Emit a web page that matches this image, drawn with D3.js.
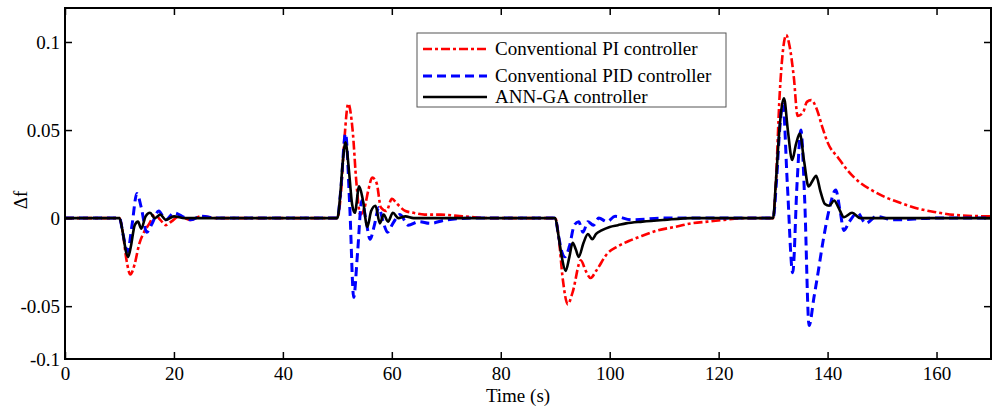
<html>

<head>
    <style>
        body { margin: 0; background: #fff; }
        svg text { font-family: "Times New Roman", "Liberation Serif", Tinos, "DejaVu Serif", serif !important; fill: #000; }
        .line { fill: none; }
    </style>
</head>

<body>
    <svg id="container" width="992" height="409"></svg>
</body>
<script src="https://cdn.jsdelivr.net/npm/d3@7"></script>
<script>
    // [time (s), delta f]
    let piSeries = [
        [0, 0], [10, 0], [10.6, -0.008], [11.3, -0.024], [12, -0.032], [12.8, -0.026], [13.6, -0.015],
        [14.5, -0.008], [15.5, -0.003], [16.5, 0.002], [17.5, -0.001], [18.5, -0.004], [19.5, -0.002],
        [21, 0.001], [23, -0.001], [25, 0.001], [28, 0], [50, 0],
        [50.6, 0.012], [51.3, 0.045], [52, 0.065], [52.8, 0.05], [53.5, 0.02], [54.2, 0.002], [55, 0.006],
        [55.7, 0.016], [56.4, 0.023], [57.2, 0.02], [58, 0.006], [59, 0.004], [60, 0.011], [61, 0.008],
        [62.5, 0.004], [64, 0.003], [66, 0.002], [69, 0.002], [73, 0.001], [78, 0], [90, 0],
        [90.6, -0.01], [91.4, -0.035], [92.3, -0.049], [93.2, -0.042], [94.7, -0.024], [95.6, -0.03],
        [96.5, -0.034], [97.5, -0.03], [99.6, -0.02], [101.5, -0.016], [103.9, -0.0125], [106, -0.01],
        [108.8, -0.007], [112, -0.005], [115, -0.003], [118, -0.002], [121, -0.001], [125, 0], [130, 0],
        [130.5, 0.02], [131.2, 0.07], [131.8, 0.095], [132.4, 0.104], [133, 0.098], [133.8, 0.08],
        [134.5, 0.058], [135.5, 0.06], [136.2, 0.066], [137, 0.067], [138, 0.062], [139, 0.052],
        [140, 0.043], [142, 0.034], [143.7, 0.027], [146, 0.02], [148, 0.016], [150.5, 0.012],
        [153.5, 0.0085], [156.5, 0.0055], [159.6, 0.0035], [164.5, 0.0015], [170, 0.001]
    ]

    let pidSeries = [
        [0, 0], [10, 0], [10.7, -0.01], [11.5, -0.019], [12.3, -0.004], [13.2, 0.014], [14, 0.006],
        [15, -0.008], [16, -0.003], [17.2, 0.004], [18.5, -0.001], [20, 0.003], [21.5, 0.001],
        [23, -0.001], [25, 0.001], [28, 0], [50, 0],
        [50.6, 0.015], [51.5, 0.048], [52.3, 0.005], [53, -0.045], [53.7, -0.02], [54.5, 0.01],
        [55.3, -0.002], [56, -0.012], [56.8, -0.004], [57.6, 0.006], [58.4, -0.002], [59.2, -0.008],
        [60.2, -0.003], [61.5, 0.002], [63, -0.004], [65, -0.002], [67, -0.003], [70, -0.001], [75, 0],
        [90, 0], [90.6, -0.01], [91.2, -0.019], [91.8, -0.022], [92.6, -0.016], [93.5, -0.004],
        [94.3, -0.002], [95.1, -0.008], [96, -0.002], [97, -0.004], [98, 0], [99.5, -0.002],
        [101, 0.001], [104, -0.001], [110, 0], [130, 0],
        [130.6, 0.02], [131.2, 0.05], [131.8, 0.065], [132.6, 0.02], [133.6, -0.031], [134.4, 0.02],
        [135.1, 0.05], [135.8, 0.01], [136.6, -0.061], [137.5, -0.045], [138.3, -0.03], [139.2, -0.0125],
        [140.3, 0.005], [141.5, 0.016], [142.3, 0.004], [143, -0.007], [144, -0.002], [145.5, 0.003],
        [147, -0.003], [149, 0.001], [152, -0.001], [160, 0], [170, 0]
    ]

    let annSeries = [
        [0, 0], [10, 0], [10.6, -0.008], [11.2, -0.019], [11.6, -0.022], [12.1, -0.016], [12.8, -0.004],
        [13.4, -0.002], [14, -0.006], [14.8, 0.001], [15.6, 0.003], [16.5, 0], [17.5, 0.002],
        [18.5, -0.001], [20, 0.001], [22, 0], [50, 0],
        [50.5, 0.012], [51, 0.032], [51.5, 0.043], [52.1, 0.028], [52.7, 0.008], [53.2, 0.003],
        [54, 0.018], [54.7, 0.01], [55.5, -0.005], [56.2, 0.004], [57, 0.007], [57.8, -0.003],
        [58.5, 0.002], [59.3, -0.002], [60.2, 0.003], [61.2, 0], [62.5, 0.001], [64, 0], [90, 0],
        [90.5, -0.008], [91.2, -0.022], [91.9, -0.03], [92.6, -0.022], [93.2, -0.014], [93.8, -0.018],
        [94.3, -0.022], [95.2, -0.014], [96, -0.009], [96.8, -0.012], [97.5, -0.009], [98.5, -0.007],
        [100, -0.005], [101.5, -0.004], [103, -0.003], [106, -0.002], [110, -0.001], [115, 0], [130, 0],
        [130.5, 0.02], [131.2, 0.052], [132, 0.068], [132.7, 0.05], [133.5, 0.033], [134.2, 0.042],
        [134.9, 0.048], [135.7, 0.032], [136.5, 0.018], [137.2, 0.021], [137.9, 0.024], [138.7, 0.015],
        [139.5, 0.008], [140.3, 0.007], [141.2, 0.01], [142, 0.006], [143, 0.0005], [144.5, 0.003],
        [146, 0], [170, 0]
    ]

    let legendNames = ["Conventional PI controller", "Conventional PID controller", "ANN-GA controller"]
    let xTicks = [0, 20, 40, 60, 80, 100, 120, 140, 160]
    let yTicks = [-0.08, -0.05, 0, 0.05, 0.1]
    let yTickLabels = ["-0.1", "-0.05", "0", "0.05", "0.1"]

    let mLeft = 65, mRight = 991, mTop = 8, mBottom = 359
    let svg = d3.select("#container")

    let x = d3.scaleLinear().domain([0, 170]).range([mLeft, mRight])
    let y = d3.scaleLinear().domain([-0.08, 0.1193]).range([mBottom, mTop])

    let styles = [
        { color: "#ff0000", width: 2.6, dash: "9,3,3,3" },
        { color: "#0000ff", width: 3, dash: "9,5" },
        { color: "#000000", width: 2.6, dash: null }
    ]

    let line = d3.line()
        .x(d => x(d[0]))
        .y(d => y(d[1]))
        .curve(d3.curveMonotoneX)

    let plot = svg.append("g")
    let allSeries = [piSeries, pidSeries, annSeries]
    allSeries.forEach((s, i) => {
        plot.append("path")
            .attr("class", "line")
            .attr("d", line(s))
            .style("stroke", styles[i].color)
            .style("stroke-width", styles[i].width)
            .style("stroke-dasharray", styles[i].dash)
    })

    // axes box with inward ticks
    let xAxis = d3.axisBottom(x).tickValues(xTicks).tickSize(-7).tickPadding(8)
    svg.append("g").attr("transform", "translate(0," + mBottom + ")").call(xAxis)
    svg.append("g").attr("transform", "translate(0," + mTop + ")")
        .call(d3.axisTop(x).tickValues(xTicks).tickSize(-7).tickFormat(""))

    let yAxis = d3.axisLeft(y).tickValues(yTicks).tickSize(-7).tickPadding(5)
        .tickFormat((d, i) => yTickLabels[i])
    let gy = svg.append("g").attr("transform", "translate(" + mLeft + ",0)").call(yAxis)
    svg.append("g").attr("transform", "translate(" + mRight + ",0)")
        .call(d3.axisRight(y).tickValues(yTicks.slice(1)).tickSize(-7).tickFormat(""))

    gy.selectAll(".tick").filter(d => d == -0.08).select("line").remove()

    svg.selectAll(".domain").remove()
    svg.selectAll(".tick line").style("stroke", "#000").style("stroke-width", 1.5)
    svg.selectAll(".tick text").style("font-size", "19px")

    svg.append("rect")
        .attr("x", mLeft).attr("y", mTop)
        .attr("width", mRight - mLeft).attr("height", mBottom - mTop)
        .style("fill", "none").style("stroke", "#000").style("stroke-width", 2)

    svg.append("text")
        .attr("x", 518).attr("y", 402)
        .style("text-anchor", "middle").style("font-size", "19px")
        .text("Time (s)")

    svg.append("text")
        .attr("transform", "translate(27,200) rotate(-90)")
        .style("text-anchor", "middle").style("font-size", "19px")
        .text("Δf")

    // legend
    let legend = svg.append("g")
    legend.append("rect")
        .attr("x", 417).attr("y", 33).attr("width", 309).attr("height", 74)
        .style("fill", "#fff").style("stroke", "#555").style("stroke-width", 1)
    let rowY = [49, 76, 97]
    legendNames.forEach((name, i) => {
        legend.append("line")
            .attr("x1", 423).attr("x2", 487)
            .attr("y1", rowY[i]).attr("y2", rowY[i])
            .style("stroke", styles[i].color)
            .style("stroke-width", styles[i].width)
            .style("stroke-dasharray", styles[i].dash)
        legend.append("text")
            .attr("x", 495).attr("y", rowY[i] + 6)
            .style("font-size", "19px")
            .text(name)
    })
</script>

</html>
